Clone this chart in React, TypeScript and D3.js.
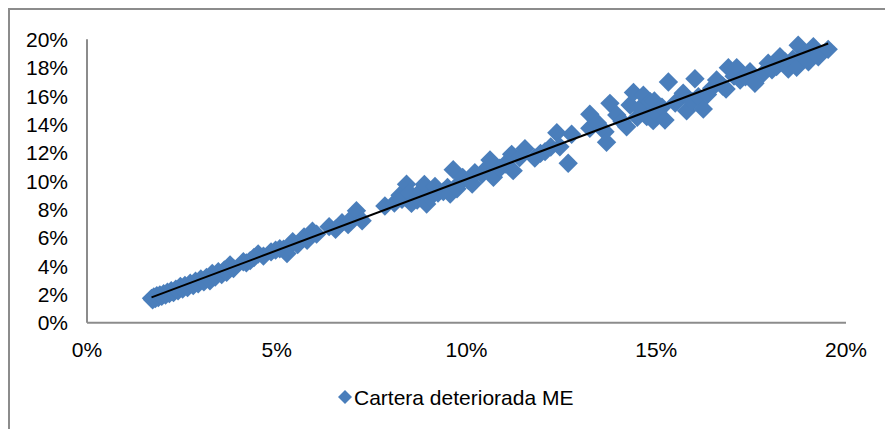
import React from "react";
import * as d3 from "d3";

// Cartera deteriorada ME (values in %)
const xValues: number[] = [
  1.70, 1.73, 1.76, 1.80, 1.84, 1.88, 1.92, 1.97, 2.02, 2.07, 2.12, 2.17, 2.22, 2.28, 2.34, 2.40, 2.46, 2.52,
  2.58, 2.65, 2.72, 2.80, 2.86, 2.93, 3.00, 3.08, 3.15, 3.24, 3.30, 3.38, 3.46, 3.55, 3.62, 3.68, 3.77, 3.86,
  4.12, 4.20, 4.30, 4.40, 4.51, 4.65, 4.85, 4.97, 5.08, 5.18, 5.27, 5.32, 5.42, 5.55, 5.72, 5.80, 5.94, 6.05,
  6.38, 6.55, 6.72, 6.88, 6.98, 7.10, 7.25,
  7.85, 8.10, 8.25, 8.30, 8.42, 8.50, 8.55, 8.70, 8.80, 8.89, 8.95, 9.05, 9.17, 9.25, 9.39, 9.50, 9.57, 9.65,
  9.75, 9.83, 9.90, 10.05, 10.15, 10.22,
  10.40, 10.55, 10.62, 10.71, 10.88, 11.02, 11.19, 11.23, 11.40, 11.54, 11.80, 11.95, 12.07, 12.22, 12.38,
  12.46, 12.68, 12.77, 13.25, 13.25, 13.45, 13.65, 13.69, 13.78, 13.96,
  14.10, 14.22, 14.31, 14.40, 14.50, 14.57, 14.66, 14.75, 14.84, 14.92, 14.95, 15.01, 15.15, 15.23, 15.32,
  15.50, 15.71, 15.80, 15.95, 16.02, 16.11, 16.24, 16.35, 16.46, 16.59,
  16.75, 16.84, 16.90, 17.05, 17.12, 17.21, 17.35, 17.47, 17.60, 17.82, 17.95, 18.05, 18.17, 18.26, 18.40,
  18.48, 18.60, 18.70, 18.74, 18.85, 18.96, 19.01, 19.14, 19.27, 19.53,
];
const yValues: number[] = [
  1.72, 1.62, 1.82, 1.70, 1.90, 1.78, 1.95, 1.86, 2.05, 1.95, 2.15, 2.05, 2.25, 2.12, 2.36, 2.25, 2.55, 2.38,
  2.62, 2.48, 2.78, 2.62, 2.92, 2.74, 3.08, 2.88, 3.20, 2.96, 3.48, 3.22, 3.60, 3.40, 3.72, 3.55, 4.08, 3.82,
  4.30, 4.22, 4.38, 4.60, 4.85, 4.70, 5.00, 5.12, 5.22, 5.18, 4.88, 5.38, 5.72, 5.52, 6.05, 5.82, 6.45, 6.25,
  6.78, 6.60, 7.06, 6.92, 7.38, 7.90, 7.20,
  8.24, 8.45, 8.99, 8.70, 9.77, 9.15, 8.42, 8.65, 9.30, 9.75, 8.38, 8.85, 9.62, 9.15, 9.25, 9.55, 9.08, 10.80,
  9.45, 9.90, 10.25, 10.05, 9.79, 10.58,
  10.45, 10.95, 11.48, 10.26, 10.90, 11.20, 11.88, 10.73, 11.65, 12.28, 11.62, 11.95, 12.07, 12.40, 13.41,
  12.42, 11.25, 13.30, 14.71, 13.72, 14.10, 13.48, 12.73, 15.48, 14.66,
  14.20, 13.83, 15.36, 16.25, 14.50, 15.13, 16.05, 14.54, 15.60, 14.26, 15.65, 14.78, 15.20, 14.30, 16.99,
  15.50, 16.19, 14.96, 15.60, 17.22, 15.95, 15.08, 16.10, 16.54, 17.13,
  16.70, 16.49, 18.00, 17.40, 18.00, 17.13, 17.35, 17.71, 16.89, 17.60, 18.31, 17.85, 18.07, 18.77, 18.40,
  17.90, 18.60, 18.02, 19.58, 18.80, 19.01, 18.42, 19.48, 18.77, 19.29,
];
const xTicks: number[] = [0, 5, 10, 15, 20];
const yTicks: number[] = [0, 2, 4, 6, 8, 10, 12, 14, 16, 18, 20];
const seriesName = "Cartera deteriorada ME";

const FONT = "'Liberation Sans', Arial, sans-serif";
const BLUE = "#4a7ebb";
const AXIS = "#8c8c8c";

function diamond(r: number) {
  return `M0,${-r}L${r},0L0,${r}L${-r},0Z`;
}

export default function App() {
  const x = d3.scaleLinear().domain([0, 20]).range([87, 846]);
  const y = d3.scaleLinear().domain([0, 20]).range([322.7, 39.3]);

  const pts = xValues.map((v, i) => ({ x: v, y: yValues[i] }));
  const mx = d3.mean(xValues) as number;
  const my = d3.mean(yValues) as number;
  let sxy = 0, sxx = 0;
  pts.forEach((p) => { sxy += (p.x - mx) * (p.y - my); sxx += (p.x - mx) ** 2; });
  const slope = sxy / sxx;
  const intercept = my - slope * mx;
  const [xmin, xmax] = d3.extent(xValues) as [number, number];
  const trend = d3.line<number>().x((v) => x(v)).y((v) => y(intercept + slope * v));

  return (
    <svg width={885} height={429} style={{ position: "absolute", left: 0, top: 0, display: "block", background: "#fff" }}
      fontFamily={FONT}>
      <rect x={9} y={9} width={900} height={450} fill="#fff" stroke={AXIS} strokeWidth={2} />
      {yTicks.map((t) => (
        <text key={"y" + t} x={68} y={y(t)} dy="0.36em" textAnchor="end" fontSize={21} fill="#000">{t}%</text>
      ))}
      {xTicks.map((t) => (
        <text key={"x" + t} x={x(t)} y={349} dy="0.36em" textAnchor="middle" fontSize={21} fill="#000">{t}%</text>
      ))}
      <line x1={x(0)} x2={x(0)} y1={y(20)} y2={y(0)} stroke={AXIS} strokeWidth={2} />
      <line x1={x(0)} x2={x(20)} y1={y(0)} y2={y(0)} stroke={AXIS} strokeWidth={2} />
      <g>
        {pts.map((p, i) => (
          <path key={i} d={diamond(9.7)} transform={`translate(${x(p.x)},${y(p.y)})`} fill={BLUE} />
        ))}
      </g>
      <path d={trend([xmin, xmax]) as string} stroke="#000" strokeWidth={2} fill="none" />
      <g transform="translate(345,397)">
        <path d={diamond(7)} fill={BLUE} />
        <text x={9} y={0} dy="0.36em" fontSize={21} fill="#000">{seriesName}</text>
      </g>
    </svg>
  );
}
